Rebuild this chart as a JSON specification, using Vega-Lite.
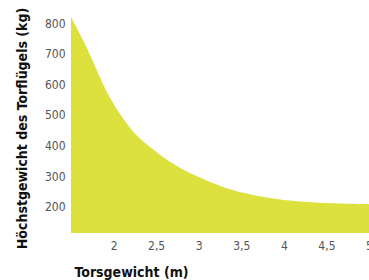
{
  "$schema": "https://vega.github.io/schema/vega-lite/v6.json",
  "width": 298,
  "height": 216,
  "autosize": "none",
  "padding": {"left": 71, "top": 17, "right": 0, "bottom": 47},
  "background": "white",
  "config": {"view": {"stroke": null}},
  "data": {"values": [
    {"t": 1.5, "w": 820},
    {"t": 1.661, "w": 733},
    {"t": 1.818, "w": 637},
    {"t": 1.975, "w": 548},
    {"t": 2.211, "w": 452},
    {"t": 2.406, "w": 400},
    {"t": 2.602, "w": 358},
    {"t": 2.799, "w": 324},
    {"t": 2.994, "w": 298},
    {"t": 3.19, "w": 275},
    {"t": 3.406, "w": 254},
    {"t": 3.799, "w": 230},
    {"t": 4.19, "w": 217},
    {"t": 4.58, "w": 211},
    {"t": 5.0, "w": 208},
    {"t": 5.1, "w": 208}
  ]},
  "mark": {"type": "area", "color": "#dce13d", "interpolate": "natural", "clip": true},
  "encoding": {
    "x": {"field": "t", "type": "quantitative",
      "scale": {"domain": [1.5, 5], "nice": false, "zero": false},
      "axis": {"values": [2, 2.5, 3, 3.5, 4, 4.5, 5], "grid": false, "domain": false, "ticks": false,
        "labelExpr": "replace(format(datum.value, '~g'), '.', ',')", "labelFont": "'DejaVu Sans Condensed', Roboto", "labelFontSize": 12,
        "labelColor": "#555555", "labelPadding": 7, "labelFlush": false,
        "title": "Torsgewicht (m)", "titleFont": "'DejaVu Sans Condensed', Roboto", "titleFontSize": 14, "titleFontWeight": "bold",
        "titleColor": "#111111", "titleAnchor": "start", "titleAlign": "left", "titleX": 3, "titleY": 39, "titleBaseline": "middle"}},
    "y": {"field": "w", "type": "quantitative",
      "scale": {"domain": [114, 820], "nice": false, "zero": false},
      "axis": {"values": [200, 300, 400, 500, 600, 700, 800], "grid": false, "domain": false, "ticks": false,
        "labelFont": "'DejaVu Sans Condensed', Roboto", "labelFontSize": 12, "labelColor": "#555555", "labelPadding": 6,
        "title": "Höchstgewicht des Torflügels (kg)", "titleFont": "'DejaVu Sans Condensed', Roboto", "titleFontSize": 14, "titleFontWeight": "bold",
        "titleColor": "#111111", "titleX": -49, "titleY": 111, "titleAlign": "center", "titleBaseline": "middle", "titleAngle": -90}}
  }
}
